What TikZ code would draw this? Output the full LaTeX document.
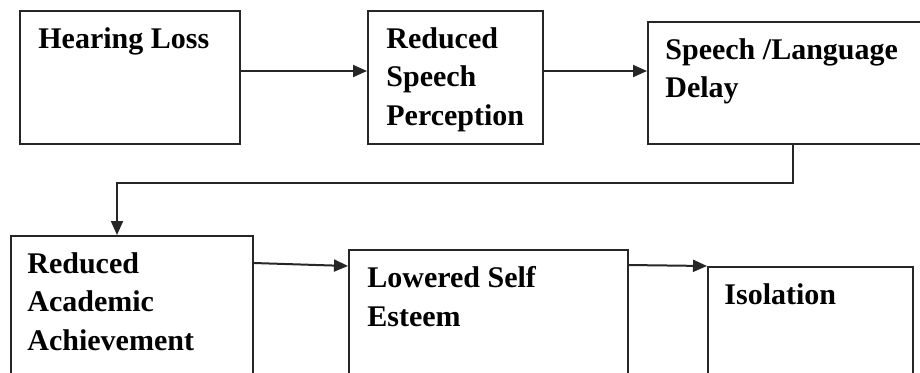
\documentclass[tikz,border=0pt]{standalone}
\usepackage{fontspec}
\setmainfont{Liberation Serif}
\usepackage{tikz}
\usetikzlibrary{arrows.meta,calc}
\definecolor{boxline}{HTML}{262626}

\begin{document}
\begin{tikzpicture}[
    x=0.5pt,y=-0.5pt,
    box/.style  = {draw=boxline, line width=1pt, anchor=north west,
                   inner sep=0pt, fill=white},
    lbl/.style  = {anchor=north west, align=left, inner sep=0pt,
                   font=\fontsize{15pt}{19.25pt}\selectfont\bfseries},
    arr/.style  = {-{Triangle[length=7pt,width=6pt]}, boxline, line width=1pt},
  ]

  \useasboundingbox (0,0) rectangle (920,372);
  \clip (0,0) rectangle (920,372);

  % top row
  \node[box, minimum width=110pt,   minimum height=66.5pt] (hl)  at (19,10)  {};
  \node[box, minimum width=87.5pt,  minimum height=66.5pt] (rsp) at (367,10) {};
  \node[box, minimum width=145pt,   minimum height=61pt]   (sld) at (647,21) {};

  % bottom row
  \node[box, minimum width=121pt,   minimum height=80pt]   (raa) at (10,235)  {};
  \node[box, minimum width=139.5pt, minimum height=80pt]   (lse) at (348,249) {};
  \node[box, minimum width=102.5pt, minimum height=80pt]   (iso) at (707,266) {};

  \node[lbl] (hlT)  at ([xshift=9.5pt,yshift=-8.5pt]hl.north west)  {Hearing Loss};
  \node[lbl] (rspT) at ([xshift=9.5pt,yshift=-8.5pt]rsp.north west) {Reduced\\Speech\\Perception};
  \node[lbl] (sldT) at ([xshift=9pt,yshift=-8.5pt]sld.north west)   {Speech /Language\\Delay};
  \node[lbl] (raaT) at ([xshift=8.5pt,yshift=-8.5pt]raa.north west) {Reduced\\Academic\\Achievement};
  \node[lbl] (lseT) at ([xshift=9.5pt,yshift=-8.5pt]lse.north west) {Lowered Self\\Esteem};
  \node[lbl] (isoT) at ([xshift=8.5pt,yshift=-8.5pt]iso.north west) {Isolation};

  \draw[arr] ([yshift=3.25pt]hl.east) -- ([yshift=3.25pt]rsp.west);
  \draw[arr] ([yshift=3.25pt]rsp.east) -- ([yshift=3.25pt]rsp.east -| sld.west);
  \draw[arr] (sld.south) -- ++(0,38) -| ([xshift=-7.5pt]raa.north);
  \draw[arr] ([yshift=-14pt]raa.north east) -- ([yshift=-8.5pt]lse.north west);
  \draw[arr] ([yshift=-8pt]lse.north east) -- (iso.north west);

\end{tikzpicture}
\end{document}
